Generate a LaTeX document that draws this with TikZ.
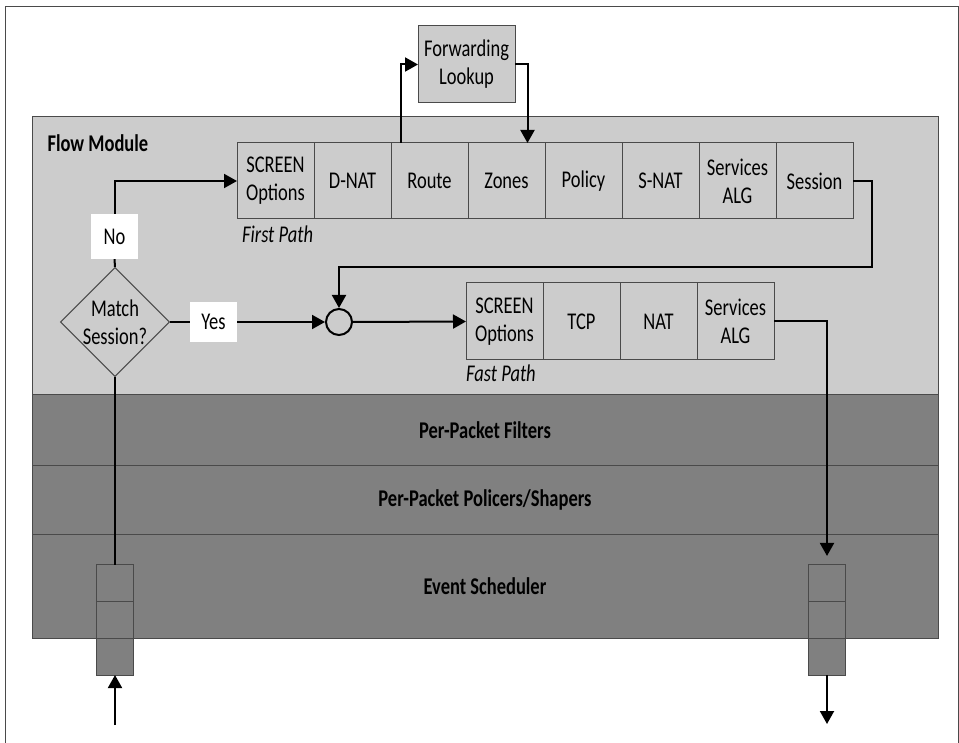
\documentclass[tikz,border=0pt]{standalone}
\usepackage{fontspec}
\setmainfont[FakeStretch=0.77]{Carlito}
\usetikzlibrary{positioning,shapes.geometric,arrows.meta}
\definecolor{modgray}{HTML}{CCCCCC}
\definecolor{bandgray}{HTML}{808080}
\definecolor{rulegray}{HTML}{4A4A4A}
\newcommand{\diagfont}{\fontsize{24}{28}\selectfont}
\tikzset{
  stagebox/.style={draw=rulegray, fill=modgray, line width=1pt, outer sep=0pt, inner sep=0pt,
    minimum width=77pt, minimum height=76pt, align=center},
  laneband/.style={draw=rulegray, fill=bandgray, line width=1pt, outer sep=0pt,
    minimum width=906pt, font=\diagfont\bfseries},
  qcell/.style={draw=rulegray, fill=bandgray, line width=1pt, outer sep=0pt, inner sep=0pt,
    minimum width=37pt, minimum height=36.7pt},
  answertag/.style={fill=white, inner sep=0pt, minimum width=47pt, minimum height=42pt},
  pktarrow/.style={line width=2pt, -{Triangle[length=13pt,width=14pt]}},
  pktline/.style={line width=2pt},
}
\begin{document}
\begin{tikzpicture}[x=1pt, y=-1pt, font=\diagfont]
\useasboundingbox (0,0) rectangle (959,743);
% Marco
\draw [line width=1pt, rulegray] (5,7) rectangle (958,760);

% Flow module
\draw [draw=rulegray, fill=modgray, line width=1pt] (32,117) rectangle (938,395);
\node [anchor=west, font=\diagfont\bfseries] (flowlbl) at (44,143) {Flow Module};

% Bandas
\node [laneband, minimum height=70pt] (filters) at (485,430) {Per-Packet Filters};
\node [laneband, minimum height=69pt, below=0pt of filters] (policers) {Per-Packet Policers/Shapers};
\node [laneband, minimum height=104pt, below=0pt of policers] (sched) {Event Scheduler};

% Colas
\node [qcell] (inq1) at (115,583.3) {};
\node [qcell, below=0pt of inq1] (inq2) {};
\node [qcell, below=0pt of inq2] (inq3) {};
\node [qcell] (outq1) at (827,583.3) {};
\node [qcell, below=0pt of outq1] (outq2) {};
\node [qcell, below=0pt of outq2] (outq3) {};

% First path
\node [stagebox] (fscreen) at (275.5,181) {SCREEN\\Options};
\node [stagebox, right=0pt of fscreen] (dnat) {D-NAT};
\node [stagebox, right=0pt of dnat] (route) {Route};
\node [stagebox, right=0pt of route] (zones) {Zones};
\node [stagebox, right=0pt of zones] (policy) {Policy};
\node [stagebox, right=0pt of policy] (snat) {S-NAT};
\node [stagebox, right=0pt of snat] (falg) {Services\\ALG};
\node [stagebox, right=0pt of falg] (session) {Session};
\node [anchor=north west, font=\diagfont\itshape, inner sep=0pt] (firstlbl) at (242,226) {First Path};

\node [stagebox, minimum width=97pt, minimum height=77pt] (fwd) at (466.5,64.5) {Forwarding\\Lookup};

% Fast path
\node [stagebox, minimum height=77pt] (qscreen) at (504.5,321.5) {SCREEN\\Options};
\node [stagebox, minimum height=77pt, right=0pt of qscreen] (tcp) {TCP};
\node [stagebox, minimum height=77pt, right=0pt of tcp] (nat) {NAT};
\node [stagebox, minimum height=77pt, right=0pt of nat] (qalg) {Services\\ALG};
\node [anchor=north west, font=\diagfont\itshape, inner sep=0pt] (fastlbl) at (466,365) {Fast Path};

% Decision
\node [diamond, draw=rulegray, fill=modgray, line width=1pt, inner sep=0pt,
  minimum width=109pt, minimum height=108pt, align=center] (match) at (115,322) {Match\\Session?};
\node [answertag, minimum height=45pt] (notag) at (114.5,236.5) {No};
\node [answertag, minimum height=40pt] (yestag) at (213.5,322) {Yes};
\node [circle, draw, line width=2pt, minimum size=26pt, inner sep=0pt] (join) at (339,322) {};

\coordinate (loopturn) at (872,267);
\coordinate (inpkt) at (115,725);
\coordinate (outpkt) at (827,724);

% Conectores
\draw [pktline] (match.north) -- (notag.south);
\draw [pktarrow] (notag.north) |- (fscreen.west);
\draw [pktline] (match.east) -- (yestag.west);
\draw [pktarrow] (yestag.east) -- (join.west);
\draw [pktarrow] (join.east) -- (qscreen.west);
\draw [pktarrow] ([xshift=10pt]route.north west) |- (fwd.west);
\draw [pktarrow] (fwd.east) -| ([xshift=21pt]zones.north);
\draw [pktarrow] (session.east) -| (loopturn) -| (join.north);
\draw [pktarrow, shorten >=9pt] (qalg.east) -| (outq1.north);
\draw [pktline] (match.south) -- (inq1.north);
\draw [pktarrow] (inpkt) -- (inq3.south);
\draw [pktarrow] (outq3.south) -- (outpkt);
\end{tikzpicture}
\end{document}
